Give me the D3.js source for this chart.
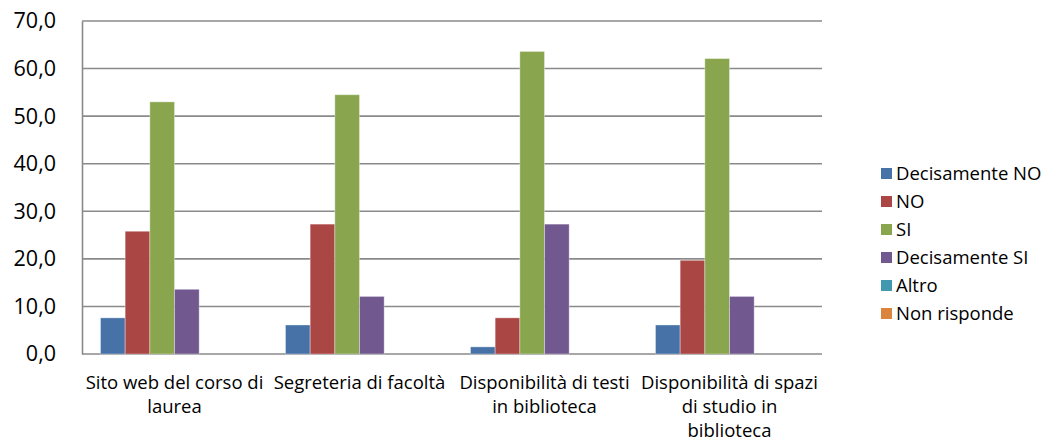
<!DOCTYPE html>
<html>
<head>
<meta charset="utf-8">
<script src="https://cdn.jsdelivr.net/npm/d3@7"></script>
<style>
  html, body { margin: 0; padding: 0; background: #fff; }
  svg { display: block; font-family: "Open Sans", "DejaVu Sans", sans-serif; }
</style>
</head>
<body>
<svg id="chart" width="1049" height="443"></svg>
<script>
const categories = [
  "Sito web del corso di\nlaurea",
  "Segreteria di facoltà",
  "Disponibilità di testi\nin biblioteca",
  "Disponibilità di spazi\ndi studio in\nbiblioteca"
];
const seriesNames = ["Decisamente NO", "NO", "SI", "Decisamente SI", "Altro", "Non risponde"];
const decisamenteNO = [7.6, 6.1, 1.5, 6.1];
const no = [25.8, 27.3, 7.6, 19.7];
const si = [53.0, 54.5, 63.6, 62.1];
const decisamenteSI = [13.6, 12.1, 27.3, 12.1];
const altro = [0, 0, 0, 0];
const nonRisponde = [0, 0, 0, 0];
const yTicks = [0, 10, 20, 30, 40, 50, 60, 70];
const colors = ["#4672A8", "#AA4643", "#89A54E", "#71588F", "#4198AF", "#DB843D"];

const seriesValues = [decisamenteNO, no, si, decisamenteSI, altro, nonRisponde];

const svg = d3.select("#chart");
const plot = { left: 82, right: 822, top: 21, bottom: 354 };

const x0 = d3.scaleBand().domain(categories).range([plot.left, plot.right]).paddingInner(0).paddingOuter(0);
const x1 = d3.scaleBand().domain(seriesNames).range([0, x0.bandwidth()]).paddingInner(0).paddingOuter(0.75);
const y = d3.scaleLinear().domain([0, 70]).range([plot.bottom, plot.top]);

const fmt = v => d3.format(".1f")(v).replace(".", ",");

// gridlines
svg.append("g").selectAll("line").data(yTicks).join("line")
  .attr("x1", plot.left).attr("x2", plot.right)
  .attr("y1", d => y(d)).attr("y2", d => y(d))
  .attr("stroke", "#8a8a8a").attr("stroke-width", 1.6);

// y axis
const yAxis = d3.axisLeft(y).tickValues(yTicks).tickFormat(fmt).tickSize(0).tickPadding(26);
const yg = svg.append("g").attr("transform", `translate(${plot.left},0)`).call(yAxis);
yg.select(".domain").attr("stroke", "#8a8a8a").attr("stroke-width", 1.6);
yg.selectAll("text").attr("font-size", 21.5).attr("fill", "#000").attr("font-family", "'Open Sans', sans-serif");

// bars
const groups = svg.append("g").selectAll("g").data(categories).join("g")
  .attr("transform", d => `translate(${x0(d)},0)`);
groups.selectAll("rect")
  .data((c, ci) => seriesNames.map((s, si) => ({ s, si, v: seriesValues[si][ci] })))
  .join("rect")
  .attr("x", d => x1(d.s))
  .attr("width", x1.bandwidth())
  .attr("y", d => y(d.v))
  .attr("height", d => y(0) - y(d.v))
  .attr("fill", d => colors[d.si])
  .attr("stroke", d => d.v > 0 ? "rgba(255,255,255,0.35)" : "none")
  .attr("stroke-width", 1);

// x axis labels
const xAxis = d3.axisBottom(x0).tickSize(0).tickPadding(0).tickFormat("");
const xg = svg.append("g").attr("transform", `translate(0,${plot.bottom})`).call(xAxis);
xg.select(".domain").remove();
xg.selectAll(".tick").each(function(d) {
  const lines = d.split("\n");
  const t = d3.select(this).append("text")
    .attr("text-anchor", "middle").attr("fill", "#000")
    .attr("font-size", 18.5).attr("font-family", "'Open Sans', sans-serif");
  lines.forEach((ln, i) => {
    t.append("tspan").attr("x", 0).attr("y", 35 + i * 24).text(ln);
  });
});

// legend
const legend = svg.append("g").attr("transform", "translate(881,168)");
const items = legend.selectAll("g").data(seriesNames).join("g")
  .attr("transform", (d, i) => `translate(0,${i * 28})`);
items.append("rect").attr("width", 11).attr("height", 11).attr("fill", (d, i) => colors[i]);
items.append("text").attr("x", 15).attr("y", 5.5).attr("dy", "0.36em")
  .attr("font-size", 18.5).attr("fill", "#000").attr("font-family", "'Open Sans', sans-serif")
  .text(d => d);
</script>
</body>
</html>
